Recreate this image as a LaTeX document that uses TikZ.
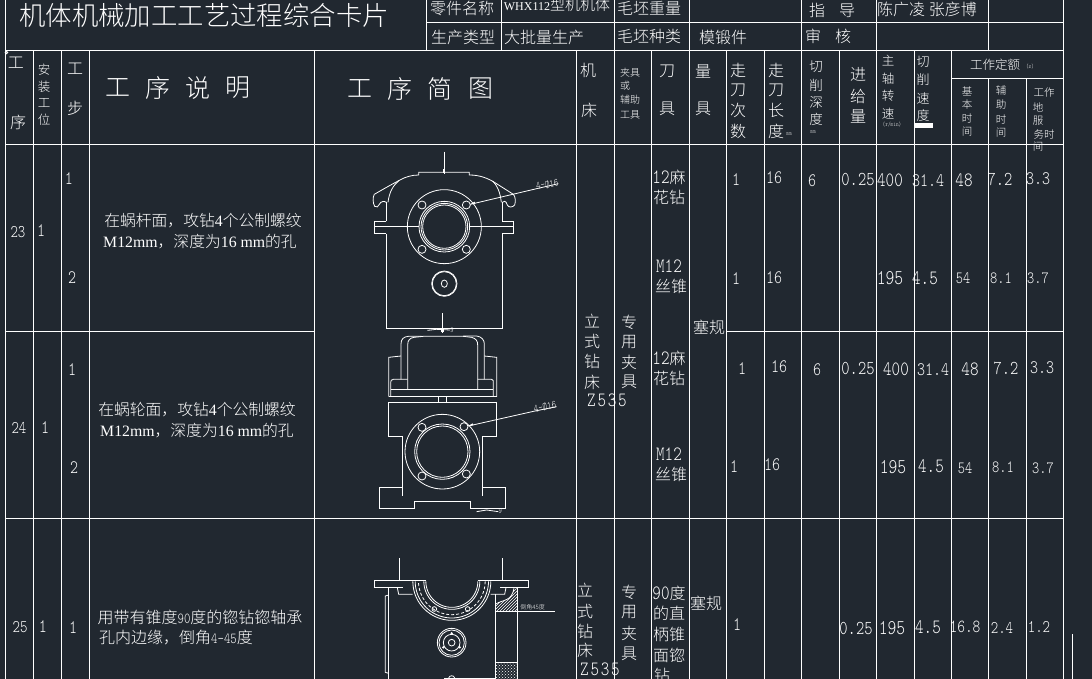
\documentclass[tikz,border=0pt]{standalone}
\usepackage{fontspec}
\setmainfont{Noto Sans CJK SC Light}
\newfontfamily\monof[Scale=1.27,FakeStretch=0.8]{Latin Modern Mono Light}
\newfontfamily\serf{Liberation Serif}
\usetikzlibrary{patterns}
\definecolor{bgc}{HTML}{212830}
\newcounter{tn}
\tikzset{
  txt/.style={text=white,inner sep=0pt,outer sep=0pt,anchor=center},
  ln/.style={draw=white,line width=1pt},
  fine/.style={draw=white,line width=0.8pt}
}
\newcommand\TT[4]{\stepcounter{tn}\node[txt,font=\fontsize{#3}{#3}\selectfont] (t\arabic{tn}) at (#1,#2) {#4};}
\newcommand\NN[4]{\stepcounter{tn}\node[txt,font=\monof\fontsize{#3}{#3}\selectfont] (t\arabic{tn}) at (#1,#2) {#4};}
\newcommand\HA[3]{plot[domain=0:180,samples=48] ({#1+#3*cos(\x)},{#2+#3*sin(\x)})}
\begin{document}
\begin{tikzpicture}[x=1pt,y=-1pt]
\fill[bgc] (0,0) rectangle (1092,679);
\useasboundingbox (0,0) rectangle (1092,679);
% table rules
\foreach \x in {33.5,61.5,89.5,314.5,576.5,614.5,651.5,689.5,726.5,764.5,801.5,839.5,876.5,914.5,951.5} {\draw[ln] (\x,50.5) -- (\x,679);}
\draw[ln] (5.5,0) -- (5.5,679);
\draw[ln] (1063.5,0) -- (1063.5,679);
\foreach \x in {426.5,501.5,614.5,689.5,801.5,876.5,988.5} {\draw[ln] (\x,0) -- (\x,50.5);}
\foreach \x in {988.5,1026.5} {\draw[ln] (\x,78.5) -- (\x,679);}
\draw[ln] (426.5,22.5) -- (1063.5,22.5);
\draw[ln] (5.5,50.5) -- (1063.5,50.5);
\draw[ln] (951.5,78.5) -- (1063.5,78.5);
\draw[ln] (5.5,144.5) -- (1063.5,144.5);
\draw[ln] (5.5,331.5) -- (314.5,331.5);
\draw[ln] (726.5,331.5) -- (1063.5,331.5);
\draw[ln] (5.5,518.5) -- (1063.5,518.5);
\draw[ln] (1072.5,634) -- (1072.5,679);
\draw[fine] (6.5,52.5) circle (1.2);
% top block
\TT{204}{15}{26.4}{机体机械加工工艺过程综合卡片}
\TT{462}{8}{16}{零件名称}
\TT{463}{37}{16}{生产类型}
\TT{544}{37}{16}{大批量生产}
\TT{557}{5}{15}{{\serf\fontsize{12}{12}\selectfont WHX112}型机机体}
\TT{649}{8}{16}{毛坯重量}
\TT{649}{36}{16}{毛坯种类}
\TT{723}{37}{16}{模锻件}
\TT{832}{10}{16}{指\hspace{14pt}导}
\TT{828}{36}{16}{审\hspace{14pt}核}
\TT{927}{9}{16}{陈广凌 张彦博}
% headers
\TT{16}{63}{16}{工}
\TT{18}{122}{16}{序}
\foreach \c/\y in {安/70,装/87,工/103,位/120} {\TT{44}{\y}{12.5}{\c}}
\TT{75}{69}{16}{工}
\TT{75}{108}{16}{步}
\foreach \c/\x in {工/118,序/158,说/198,明/238} {\TT{\x}{88}{25}{\c}}
\foreach \c/\x in {工/360,序/400,简/440,图/481} {\TT{\x}{89}{25}{\c}}
\TT{588}{70}{16}{机}
\TT{589}{110}{16}{床}
\TT{630}{73}{10}{夹具}
\TT{625}{86}{10}{或}
\TT{630}{100}{10}{辅助}
\TT{630}{115}{10}{工具}
\TT{667}{71}{16}{刀}
\TT{667}{109}{16}{具}
\TT{703}{71}{16}{量}
\TT{703}{109}{16}{具}
\foreach \c/\y in {走/70,刀/90,次/110,数/131} {\TT{738}{\y}{16}{\c}}
\foreach \c/\y in {走/70,刀/90,长/110,度/131} {\TT{776}{\y}{16}{\c}}
\NN{789}{134}{5}{mm}
\foreach \c/\y in {切/67,削/85,深/102,度/119} {\TT{816}{\y}{13.5}{\c}}
\NN{813}{132}{5}{mm}
\foreach \c/\y in {进/74,给/96,量/116} {\TT{858}{\y}{16}{\c}}
\foreach \c/\y in {主/61,轴/79,转/96,速/114} {\TT{888}{\y}{12.5}{\c}}
\NN{892}{125}{5}{(r/min)}
\foreach \c/\y in {切/62,削/80,速/98,度/116} {\TT{923}{\y}{13}{\c}}
\fill[white] (915,123) rectangle (933,128);
\TT{995}{65}{12.5}{工作定额}
\NN{1030}{67}{5}{(s)}
\foreach \c/\y in {基/91,本/105,时/118,间/132} {\TT{967}{\y}{10.5}{\c}}
\foreach \c/\y in {辅/91,助/105,时/119,间/133} {\TT{1001}{\y}{10.5}{\c}}
\TT{1044}{93}{10.5}{工作}
\TT{1038}{107}{10.5}{地}
\TT{1038}{121}{10.5}{服}
\TT{1044}{134}{10.5}{务时}
\TT{1038}{147}{10.5}{间}
% left columns
\NN{18}{232}{14}{23}\NN{41}{231}{15}{1}\NN{69}{179}{15}{1}\NN{72}{278}{15}{2}
\NN{19}{428}{14}{24}\NN{45}{428}{15}{1}\NN{72}{370}{15}{1}\NN{74}{468}{15}{2}
\NN{20}{627}{14}{25}\NN{43}{627}{15}{1}\NN{73}{628}{15}{1}
% descriptions
\TT{203}{221}{15.8}{在蜗杆面，攻钻{\serf 4}个公制螺纹}
\TT{200}{242}{15.8}{{\serf M12mm}，深度为{\serf 16 mm}的孔}
\TT{197}{410}{15.8}{在蜗轮面，攻钻{\serf 4}个公制螺纹}
\TT{197}{431}{15.8}{{\serf M12mm}，深度为{\serf 16 mm}的孔}
\TT{200}{617}{16}{用带有锥度{\monof\fontsize{12}{12}\selectfont 90}度的锪钻锪轴承}
\TT{176}{638}{16}{孔内边缘，倒角{\monof\fontsize{12}{12}\selectfont 4-45}度}
% machine / fixture columns
\foreach \c/\y in {立/321,式/341,钻/361,床/382} {\TT{592}{\y}{16}{\c}}
\NN{607}{400}{16}{Z\kern1.8pt 5\kern1.8pt 3\kern1.8pt 5}
\foreach \c/\y in {专/322,用/342,夹/362,具/382} {\TT{629}{\y}{16}{\c}}
\foreach \c/\y in {立/590,式/611,钻/631,床/650} {\TT{585}{\y}{16}{\c}}
\NN{600}{669}{16}{Z\kern1.8pt 5\kern1.8pt 3\kern1.8pt 5}
\foreach \c/\y in {专/592,用/612,夹/633,具/654} {\TT{629}{\y}{16}{\c}}
% tools
\TT{669}{177}{16}{{\monof 12}麻}\TT{669}{197}{16}{花钻}
\NN{669}{266}{16}{M12}\TT{671}{286}{16}{丝锥}
\TT{669}{358}{16}{{\monof 12}麻}\TT{669}{378}{16}{花钻}
\NN{669}{454}{16}{M12}\TT{671}{474}{16}{丝锥}
\TT{669}{593}{16}{{\monof 90}度}\TT{669}{613}{16}{的直}\TT{669}{634}{16}{柄锥}\TT{669}{655}{16}{面锪}\TT{662}{675}{16}{钻}
\TT{709}{327}{16}{塞规}
\TT{706}{603}{16}{塞规}
% numbers
\NN{736}{180}{15}{1}\NN{774}{178}{15}{16}\NN{812}{181}{15}{6}\NN{858}{179}{15.5}{0.25}\NN{890}{180}{16}{400}\NN{928}{181}{15}{31.4}\NN{964}{180}{16}{48}\NN{1000}{179}{15.5}{7.2}\NN{1038}{179}{15}{3.3}
\NN{736}{279}{15}{1}\NN{774}{278}{15}{16}\NN{890}{278}{16.5}{195}\NN{925}{278}{16}{4.5}\NN{963}{278}{13.5}{54}\NN{1001}{278}{13.5}{8.1}\NN{1038}{278}{13.5}{3.7}
\NN{742}{369}{15}{1}\NN{779}{367}{15}{16}\NN{817}{370}{15}{6}\NN{858}{368}{15.5}{0.25}\NN{896}{369}{16}{400}\NN{933}{370}{15}{31.4}\NN{970}{369}{16}{48}\NN{1006}{368}{15.5}{7.2}\NN{1042}{368}{15}{3.3}
\NN{734}{467}{15}{1}\NN{772}{465}{15}{16}\NN{893}{467}{16.5}{195}\NN{931}{466}{16}{4.5}\NN{965}{468}{13.5}{54}\NN{1003}{467}{13.5}{8.1}\NN{1043}{468}{13.5}{3.7}
\NN{737}{625}{15}{1}\NN{856}{628}{15.5}{0.25}\NN{892}{628}{16.5}{195}\NN{928}{627}{16}{4.5}\NN{965}{627}{14.5}{16.8}\NN{1002}{628}{14}{2.4}\NN{1039}{627}{14}{1.2}
% --- sketch 1
\begin{scope}[shift={(340,145)},scale=1/3]
\draw[fine] (313,20) -- (313,88);
\fill[white] (310,72) rectangle (316,84);
\draw[fine] (139,266) -- (139,550) -- (487,550) -- (487,266);
\draw[fine] (139,229) -- (139,172);
\draw[fine] (487,229) -- (487,172);
\draw[fine] (139,229) -- (103,229) -- (103,266) -- (139,266);
\draw[fine] (487,229) -- (521,229) -- (521,266) -- (487,266);
\draw[fine] (103,245) -- (238,245);
\draw[fine] (388,245) -- (521,245);
\draw[fine] (103,148) .. controls (120,138) and (155,118) .. (178,106) .. controls (195,96) and (215,90) .. (236,90) -- (236,82) -- (388,82) -- (388,90) .. controls (420,90) and (445,100) .. (468,115) -- (520,148) .. controls (527,155) and (527,170) .. (524,180) .. controls (518,188) and (505,188) .. (502,180) .. controls (498,165) and (490,168) .. (487,172);
\draw[fine] (103,148) .. controls (98,155) and (98,175) .. (104,184) .. controls (110,188) and (115,186) .. (118,178) .. controls (122,168) and (134,168) .. (139,172);
\draw[fine] (178,106) .. controls (160,120) and (148,140) .. (144,172);
\draw[fine] (458,108) .. controls (472,122) and (480,140) .. (484,172);
\draw[fine] (313,245) circle (111);
\draw[fine] (313,245) circle (76);
\draw[fine] (313,245) circle (70);
\draw[fine] (313,245) circle (65);
\foreach \a/\b in {246/180,379/180,246/313,379/313} {\draw[fine] (\a,\b) circle (12);}
\draw[fine] (313,416) circle (38);
\draw[fine] (313,416) circle (36);
\draw[fine] (313,416) ellipse (9 and 11);
\draw[fine] (391,178) -- (590,131) -- (655,116);
\fill[white] (390,178) -- (404,170) -- (406,176) -- cycle;
\node[txt,font=\monof\fontsize{8.5}{8.5}\selectfont,rotate=12] (lab1) at (622,118) {4-Ø16};
\draw[fine] (307,505) -- (307,565);
\draw[fine] (262,556) -- (290,553);
\draw[fine] (290,553) -- (330,555);
\fill[white] (302,552) rectangle (312,560);
\node[txt,font=\monof\fontsize{6}{6}\selectfont] (lab1b) at (336,557) {9};
\end{scope}
% --- sketch 2
\begin{scope}[shift={(340,330)},scale=1/3]
\draw[fine] (183,148) -- (183,42) .. controls (183,28) and (190,20) .. (205,19) -- (245,19);
\draw[fine] (370,18) -- (410,18) .. controls (425,20) and (433,30) .. (433,42) -- (433,148);
\draw[fine] (203,178) -- (203,45) .. controls (203,30) and (210,24) .. (222,22) -- (250,19) -- (370,19) -- (395,22) .. controls (408,26) and (413,32) .. (413,45) -- (413,178);
\draw[fine] (183,78) -- (146,82) -- (146,200);
\draw[fine] (433,78) -- (470,82) -- (470,200);
\draw[fine] (203,148) -- (160,148) .. controls (154,148) and (152,152) .. (152,158) -- (152,198);
\draw[fine] (413,148) -- (454,148) .. controls (460,148) and (460,152) .. (460,158) -- (460,198);
\draw[fine] (152,178) -- (460,178);
\draw[fine] (152,198) -- (460,198);
\draw[fine] (146,200) -- (470,200);
\draw[fine] (146,217) -- (470,217);
\draw[fine] (296,200) -- (296,217);
\draw[fine] (319,200) -- (319,217);
\draw[fine] (146,217) -- (146,319) -- (188,319) -- (188,497);
\draw[fine] (470,217) -- (470,319) -- (428,319) -- (428,497);
\draw[fine] (188,472) -- (118,472) -- (118,536) -- (222,536) -- (222,514) -- (392,514) -- (392,536) -- (497,536) -- (497,472) -- (428,472);
\draw[fine] (307,365) circle (112);
\draw[fine] (307,365) circle (83);
\draw[fine] (307,365) circle (77);
\foreach \a/\b in {246/292,372/290,246/438,379/432} {\draw[fine] (\a,\b) circle (12);}
\draw[fine] (385,288) -- (585,243) -- (650,230);
\fill[white] (384,288) -- (398,280) -- (400,286) -- cycle;
\node[txt,font=\monof\fontsize{8.5}{8.5}\selectfont,rotate=12] (lab2) at (615,230) {4-Ø16};
\draw[fine] (410,545) -- (440,540) -- (475,545);
\node[txt,font=\monof\fontsize{6}{6}\selectfont] (lab2b) at (481,545) {9};
\end{scope}
% --- sketch 3
\begin{scope}[shift={(340,540)},scale=1/3]
\draw[fine] (178,55) -- (178,121);
\draw[fine] (487,55) -- (487,121);
\draw[fine] (103,121) -- (258,121);
\draw[fine] (413,121) -- (566,121) -- (566,143) -- (480,143);
\draw[fine] (103,121) -- (103,143) -- (190,143);
\draw[fine] (172,143) -- (176,163) -- (218,163);
\draw[fine] (452,163) -- (494,163) -- (498,143);
\draw[fine] \HA{335.5}{124}{78};
\draw[fine] \HA{335.5}{124}{84};
\draw[fine,densely dashed] \HA{335.5}{124}{100};
\draw[fine] \HA{335.5}{124}{110};
\draw[fine] \HA{335.5}{124}{117};
\foreach \a in {283,383} {\draw[fine] (\a,207) circle (7);}
\draw[fine] (335,308) circle (43);
\draw[fine] (335,308) circle (38);
\draw[fine] (335,308) circle (25);
\draw[fine] (335,308) circle (10);
\foreach \a/\b in {335/280,310/322,359/322} {\fill[white] (\a,\b) circle (4);}
\draw[fine] (146,143) -- (146,417);
\draw[fine] (146,165) -- (136,168) -- (136,397) -- (146,400);
\fill[pattern=north east lines,pattern color=white] (467,213) -- (467,192) .. controls (490,178) and (515,185) .. (522,145) -- (532,145) -- (532,213) -- cycle;
\fill[pattern=crosshatch dots,pattern color=white] (467,367) rectangle (532,417);
\draw[fine] (467,163) -- (467,417);
\draw[fine] (532,143) -- (532,417);
\draw[fine] (467,192) .. controls (490,178) and (515,185) .. (522,145);
\draw[fine] (467,367) -- (532,367);
\draw[fine] (467,213) -- (645,213);
\node[txt,font=\fontsize{6}{6}\selectfont] (lab3) at (578,202) {倒角45度};
\draw[fine] (312,414) -- (467,414);
\draw[fine] (326,414) .. controls (328,405) and (342,405) .. (344,414);
\end{scope}
\end{tikzpicture}
\end{document}
